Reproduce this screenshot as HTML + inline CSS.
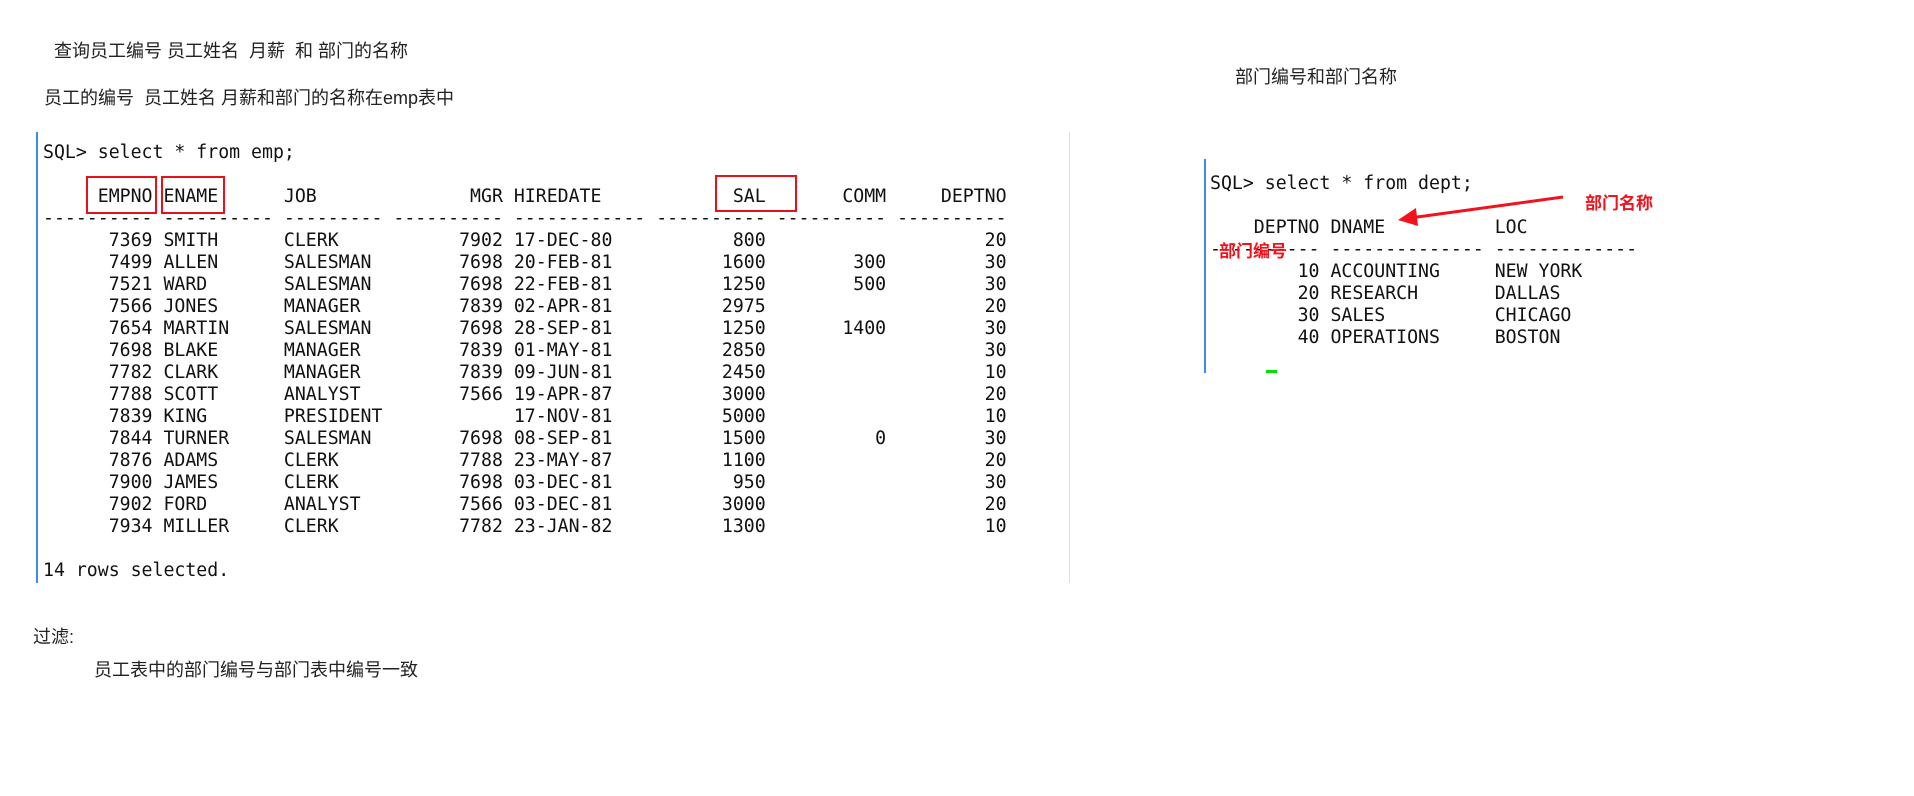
<!DOCTYPE html>
<html><head><meta charset="utf-8">
<style>
body{margin:0;width:1914px;height:796px;background:#fff;position:relative;overflow:hidden;}
.t{position:absolute;font-family:"Liberation Sans","Noto Sans CJK SC",sans-serif;font-size:18px;color:#222;white-space:pre;line-height:22px;}
.m{position:absolute;font-family:"DejaVu Sans Mono","Liberation Mono",monospace;font-size:18.2px;color:#111;white-space:pre;line-height:22px;}
.box{position:absolute;border:2px solid #e8101a;box-sizing:border-box;}
.red{position:absolute;font-family:"Liberation Sans","Noto Sans CJK SC",sans-serif;font-size:17px;font-weight:bold;color:#f0131b;line-height:22px;white-space:pre;}
</style></head><body>
<div class="t" style="left:54px;top:40px;">查询员工编号 员工姓名  月薪  和 部门的名称</div>
<div class="t" style="left:44px;top:87px;">员工的编号  员工姓名 月薪和部门的名称在emp表中</div>
<div class="t" style="left:1235px;top:66px;">部门编号和部门名称</div>

<div style="position:absolute;left:36px;top:132px;width:2px;height:451px;background:#3a8ee6;"></div>
<div style="position:absolute;left:1069px;top:132px;width:1px;height:451px;background:#ddd;"></div>
<div style="position:absolute;left:1204px;top:159px;width:2px;height:214px;background:#3a8ee6;"></div>

<div class="m" style="left:43px;top:142px;">SQL> select * from emp;

     EMPNO ENAME      JOB              MGR HIREDATE            SAL       COMM     DEPTNO
---------- ---------- --------- ---------- ------------ ---------- ---------- ----------
      7369 SMITH      CLERK           7902 17-DEC-80           800                    20
      7499 ALLEN      SALESMAN        7698 20-FEB-81          1600        300         30
      7521 WARD       SALESMAN        7698 22-FEB-81          1250        500         30
      7566 JONES      MANAGER         7839 02-APR-81          2975                    20
      7654 MARTIN     SALESMAN        7698 28-SEP-81          1250       1400         30
      7698 BLAKE      MANAGER         7839 01-MAY-81          2850                    30
      7782 CLARK      MANAGER         7839 09-JUN-81          2450                    10
      7788 SCOTT      ANALYST         7566 19-APR-87          3000                    20
      7839 KING       PRESIDENT            17-NOV-81          5000                    10
      7844 TURNER     SALESMAN        7698 08-SEP-81          1500          0         30
      7876 ADAMS      CLERK           7788 23-MAY-87          1100                    20
      7900 JAMES      CLERK           7698 03-DEC-81           950                    30
      7902 FORD       ANALYST         7566 03-DEC-81          3000                    20
      7934 MILLER     CLERK           7782 23-JAN-82          1300                    10

14 rows selected.</div>

<div class="box" style="left:86px;top:176px;width:71px;height:38px;"></div>
<div class="box" style="left:161px;top:176px;width:64px;height:38px;"></div>
<div class="box" style="left:715px;top:175px;width:82px;height:37px;"></div>

<div class="m" style="left:1210px;top:173px;">SQL> select * from dept;

    DEPTNO DNAME          LOC
---------- -------------- -------------
        10 ACCOUNTING     NEW YORK
        20 RESEARCH       DALLAS
        30 SALES          CHICAGO
        40 OPERATIONS     BOSTON</div>

<div style="position:absolute;left:1266px;top:370px;width:11px;height:3px;background:#00e000;"></div>

<div class="red" style="left:1585px;top:193px;">部门名称</div>
<div class="red" style="left:1219px;top:241px;">部门编号</div>
<svg style="position:absolute;left:0;top:0;" width="1914" height="796">
<line x1="1563" y1="197" x2="1410" y2="218" stroke="#f0131b" stroke-width="3"/>
<polygon points="1398,220 1416,208 1418,226" fill="#f0131b"/>
</svg>

<div class="t" style="left:33px;top:626px;">过滤:</div>
<div class="t" style="left:94px;top:659px;">员工表中的部门编号与部门表中编号一致</div>
</body></html>
